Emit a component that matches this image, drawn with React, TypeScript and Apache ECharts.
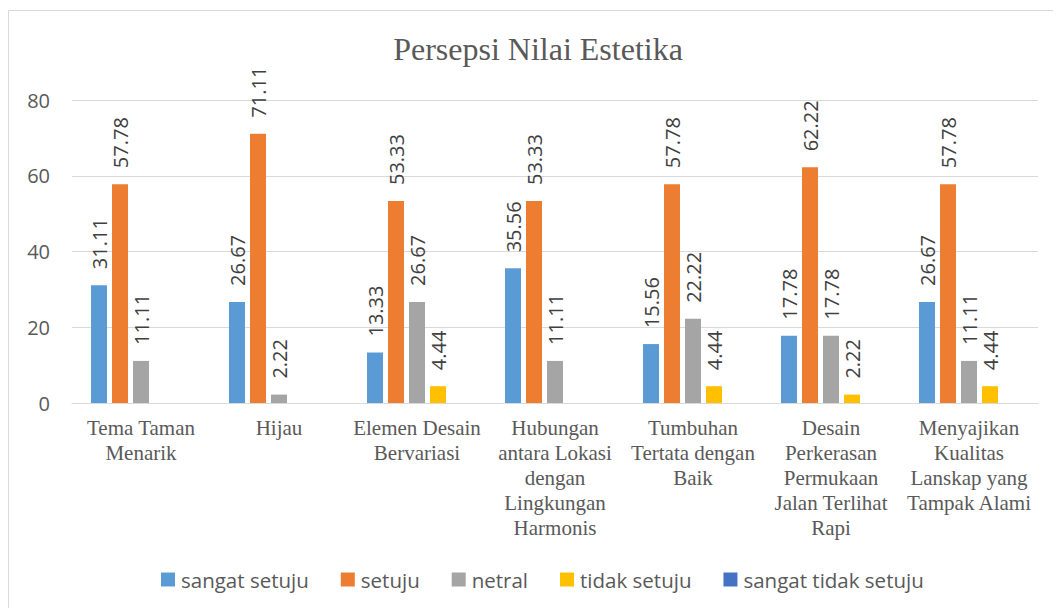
import React, { useEffect, useRef } from "react";
import * as echarts from "echarts";

const categories = [
  "Tema Taman\nMenarik",
  "Hijau",
  "Elemen Desain\nBervariasi",
  "Hubungan\nantara Lokasi\ndengan\nLingkungan\nHarmonis",
  "Tumbuhan\nTertata dengan\nBaik",
  "Desain\nPerkerasan\nPermukaan\nJalan Terlihat\nRapi",
  "Menyajikan\nKualitas\nLanskap yang\nTampak Alami",
];

const seriesNames = ["sangat setuju", "setuju", "netral", "tidak setuju", "sangat tidak setuju"];
const sangatSetuju = [31.11, 26.67, 13.33, 35.56, 15.56, 17.78, 26.67];
const setuju = [57.78, 71.11, 53.33, 53.33, 57.78, 62.22, 57.78];
const netral = [11.11, 2.22, 26.67, 11.11, 22.22, 17.78, 11.11];
const tidakSetuju = [0, 0, 4.44, 0, 4.44, 2.22, 4.44];
const sangatTidakSetuju = [0, 0, 0, 0, 0, 0, 0];
const yTicks = { min: 0, max: 80, interval: 20 };

const colors = ["#5B9BD5", "#ED7D31", "#A5A5A5", "#FFC000", "#4472C4"];

export default function App() {
  const ref = useRef<HTMLDivElement>(null);
  useEffect(() => {
    if (!ref.current) return;
    const chart = echarts.init(ref.current, undefined, { renderer: "svg" });
    const allData = [sangatSetuju, setuju, netral, tidakSetuju, sangatTidakSetuju];
    chart.setOption({
      animation: false,
      color: colors,
      title: {
        text: "Persepsi Nilai Estetika",
        left: 525,
        top: 20,
        textAlign: "center",
        textStyle: {
          fontFamily: "'Liberation Serif', 'Times New Roman', serif",
          fontSize: 32,
          fontWeight: "normal",
          color: "#595959",
        },
      },
      graphic: [
        {
          type: "rect",
          shape: { x: 0.5, y: 2.5, width: 1200, height: 800 },
          style: { fill: "none", stroke: "#d9d9d9", lineWidth: 1 },
          silent: true,
          z: -1,
        },
      ],
      legend: {
        data: seriesNames,
        left: 148,
        top: 556,
        itemWidth: 14,
        itemHeight: 14,
        itemGap: 32,
        icon: "rect",
        textStyle: {
          fontFamily: "'Open Sans', sans-serif",
          fontSize: 20.5,
          color: "#595959",
          padding: [0, 0, 0, 1],
        },
      },
      grid: { left: 64, right: 23, top: 92, bottom: 205, containLabel: false },
      xAxis: {
        type: "category",
        data: categories,
        axisLine: { lineStyle: { color: "#d9d9d9", width: 1 } },
        axisTick: { show: false },
        axisLabel: {
          interval: 0,
          margin: 12,
          fontFamily: "'Liberation Serif', 'Times New Roman', serif",
          fontSize: 21,
          lineHeight: 25,
          color: "#595959",
          verticalAlign: "top",
        },
      },
      yAxis: {
        type: "value",
        min: yTicks.min,
        max: yTicks.max,
        interval: yTicks.interval,
        axisLine: { show: false },
        axisTick: { show: false },
        splitLine: { lineStyle: { color: "#d9d9d9", width: 1 } },
        axisLabel: {
          margin: 22,
          fontFamily: "'Open Sans', sans-serif",
          fontSize: 20,
          color: "#595959",
        },
      },
      series: seriesNames.map((name, i) => ({
        name,
        type: "bar",
        data: allData[i],
        barWidth: 16,
        barGap: "31.25%",
        label: {
          show: true,
          position: "top",
          rotate: 90,
          align: "left",
          verticalAlign: "middle",
          distance: 16,
          fontFamily: "'Open Sans', sans-serif",
          fontSize: 20,
          color: "#404040",
          formatter: (p: any) => (p.value ? Number(p.value).toFixed(2) : ""),
        },
      })),
    });
    return () => chart.dispose();
  }, []);
  return <div ref={ref} style={{ width: 1053, height: 600 }} />;
}
